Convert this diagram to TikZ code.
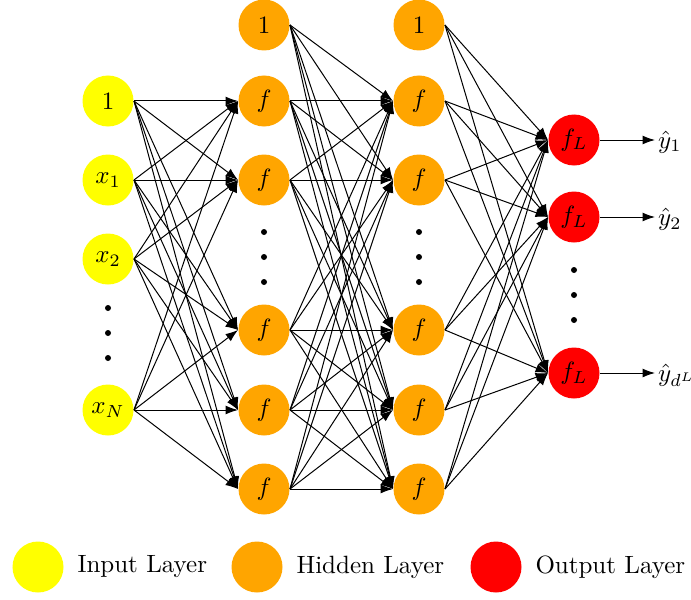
\documentclass[tikz,border=0pt]{standalone}
\usetikzlibrary{arrows.meta}
\definecolor{inyellow}{RGB}{255,255,0}
\definecolor{hidorange}{RGB}{255,165,0}
\definecolor{outred}{RGB}{255,0,0}
\begin{document}
\begin{tikzpicture}[x=0.4pt,y=-0.4pt,
  neuron/.style={circle,minimum size=20.4pt,inner sep=0pt},
  inp/.style={neuron,fill=inyellow},
  hid/.style={neuron,fill=hidorange},
  outp/.style={neuron,fill=outred},
  vdot/.style={circle,fill=black,inner sep=0pt,minimum size=2.4pt},
  conn/.style={-{Latex[length=5pt,width=3.6pt]},line width=0.4pt},
  legend/.style={anchor=west,inner sep=0pt}]
\useasboundingbox (0,0) rectangle (691,599);

% input layer
\node[inp] (i0) at (108,101) {$1$};
\node[inp] (i1) at (108,180) {$x_1$};
\node[inp] (i2) at (108,259) {$x_2$};
\node[inp] (i3) at (108,410) {$x_N$};
\foreach \y [count=\k] in {308,333,358} \node[vdot] (id\k) at (108,\y) {};

% first hidden layer
\node[hid] (a0) at (264,25) {$1$};
\foreach \y [count=\k] in {101,180,330,410,489} \node[hid] (a\k) at (264,\y) {$f$};
\foreach \y [count=\k] in {232,257,282} \node[vdot] (ad\k) at (264,\y) {};

% second hidden layer
\node[hid] (b0) at (419,25) {$1$};
\foreach \y [count=\k] in {101,180,330,410,489} \node[hid] (b\k) at (419,\y) {$f$};
\foreach \y [count=\k] in {232,257,282} \node[vdot] (bd\k) at (419,\y) {};

% output layer
\node[outp] (o1) at (574,140) {$f_L$};
\node[outp] (o2) at (574,217) {$f_L$};
\node[outp] (o3) at (574,373) {$f_L$};
\foreach \y [count=\k] in {270,295,320} \node[vdot] (od\k) at (574,\y) {};

% outputs
\node[anchor=west,inner sep=1pt] (y1) at (655,142) {$\hat{y}_1$};
\node[anchor=west,inner sep=1pt] (y2) at (655,219) {$\hat{y}_2$};
\node[anchor=west,inner sep=1pt] (y3) at (655,375) {$\hat{y}_{d^L}$};

% connections
\foreach \s in {0,1,2,3} \foreach \t in {1,...,5}
  \draw[conn] (i\s.east) -- (a\t.west);
\foreach \s in {0,...,5} \foreach \t in {1,...,5}
  \draw[conn] (a\s.east) -- (b\t.west);
\foreach \s in {0,...,5} \foreach \t in {1,2,3}
  \draw[conn] (b\s.east) -- (o\t.west);
\foreach \t in {1,2,3}
  \draw[conn] (o\t.east) -- (o\t.east -| y\t.west);

% legend
\node[inp] (l1) at (38,567) {};
\node[legend] (lt1) at (77,567) {Input Layer};
\node[hid] (l2) at (257,567) {};
\node[legend] (lt2) at (296,567) {Hidden Layer};
\node[outp] (l3) at (496,567) {};
\node[legend] (lt3) at (535,567) {Output Layer};
\end{tikzpicture}
\end{document}
